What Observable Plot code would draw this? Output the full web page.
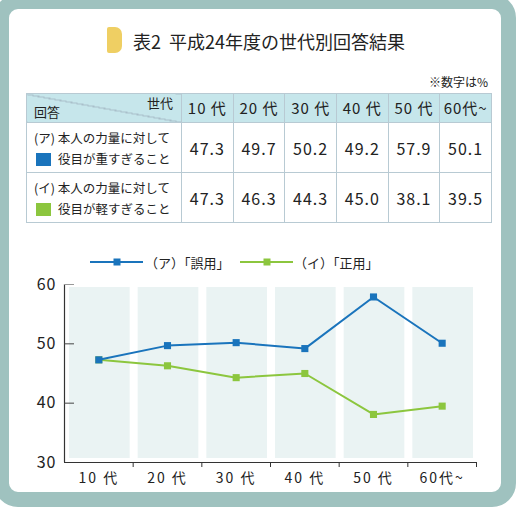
<!DOCTYPE html>
<html><head><meta charset="utf-8">
<script src="https://cdn.jsdelivr.net/npm/d3@7"></script>
<script src="https://cdn.jsdelivr.net/npm/@observablehq/plot@0.6"></script>
<style>
body{margin:0;background:#fff;font-family:"Noto Sans CJK JP","Noto Sans",sans-serif;color:#222;}
#root{position:relative;width:516px;height:516px;overflow:hidden;background:#fff;}
#frame{position:absolute;left:-6px;top:-6px;width:522px;height:513px;box-sizing:border-box;border:15px solid #9fc2bf;border-radius:24px;}
#tab{position:absolute;left:107px;top:27px;width:15px;height:26px;background:#efcf63;border-radius:2px 7px 7px 2px;}
#title{position:absolute;left:133px;top:29px;font-size:18px;line-height:24px;white-space:nowrap;color:#222;}
#note{position:absolute;right:28px;top:74px;font-size:12px;line-height:16px;}
table{position:absolute;left:26px;top:93px;border-collapse:collapse;table-layout:fixed;width:466px;}
td{border:1px solid #b8cad3;padding:0;text-align:center;vertical-align:middle;white-space:nowrap;overflow:hidden;}
tr.head td{background:#c6e6eb;height:28px;font-size:15px;letter-spacing:1px;line-height:20px;}
tr.row td{height:49px;font-size:16px;letter-spacing:1px;line-height:20px;}
td.corner{position:relative;letter-spacing:0 !important;background:#c6e6eb linear-gradient(to top right, transparent calc(50% - 0.6px), #a9bfca calc(50% - 0.6px), #a9bfca calc(50% + 0.6px), transparent calc(50% + 0.6px)) !important;}
td.corner .a{position:absolute;right:8px;top:1px;font-size:13px;line-height:16px;}
td.corner .b{position:absolute;left:7px;bottom:2px;font-size:13px;line-height:16px;}
tr.row td.lab{text-align:left;padding-left:7px;font-size:12.5px;line-height:21px;letter-spacing:0;}
td.lab .sq{display:inline-block;width:15px;height:13px;vertical-align:-2px;margin-right:7px;margin-left:2px;}
td.lab .l2{font-size:12.5px;}
#legend{position:absolute;left:0;top:252px;width:516px;height:20px;font-size:13px;}
#legend .it{position:absolute;top:0;display:flex;align-items:center;}
#chart{position:absolute;left:0;top:250px;}
#chart g[aria-label="x-axis tick label"] text{letter-spacing:2px;}
#chart g[aria-label="y-axis tick label"] text{letter-spacing:1px;}
</style></head>
<body><div id="root">
<div id="frame"></div>
<div id="tab"></div>
<div id="title">表2&nbsp;&nbsp;平成24年度の世代別回答結果</div>
<div id="note">※数字は%</div>
<table id="tbl"></table>
<div id="legend"></div>
<div id="chart"></div>
</div>
<script>
const headerGenerations = ["10 代","20 代","30 代","40 代","50 代","60代~"];
const axisGenerations = ["10 代","20 代","30 代","40 代","50 代","60代~"];
const misuse = [47.3, 49.7, 50.2, 49.2, 57.9, 50.1];   // (ア)
const correct = [47.3, 46.3, 44.3, 45.0, 38.1, 39.5];  // (イ)
const yTicks = [30, 40, 50, 60];
const rowLabel1 = ["(ア) 本人の力量に対して", "(イ) 本人の力量に対して"];
const rowLabel2 = ["役目が重すぎること", "役目が軽すぎること"];
const seriesNames = ["（ア）「誤用」", "（イ）「正用」"];
const colors = ["#1a74bc", "#8cc63e"];

// table
const tbl = document.getElementById("tbl");
let html = '<colgroup><col style="width:155px">' + headerGenerations.map(()=>'<col>').join('') + '</colgroup>';
html += '<tr class="head"><td class="corner"><span class="a">世代</span><span class="b">回答</span></td>' +
  headerGenerations.map(g => `<td>${g}</td>`).join('') + '</tr>';
[misuse, correct].forEach((vals, r) => {
  html += `<tr class="row"><td class="lab">${rowLabel1[r]}<br><span class="l2"><span class="sq" style="background:${colors[r]}"></span>${rowLabel2[r]}</span></td>` +
    vals.map(v => `<td>${v.toFixed(1)}</td>`).join('') + '</tr>';
});
tbl.innerHTML = html;

// legend
const legend = document.getElementById("legend");
const legendPos = [{line: 90, text: 145}, {line: 240, text: 294}];
seriesNames.forEach((name, k) => {
  const it = document.createElement("div");
  it.className = "it";
  it.style.left = legendPos[k].line + "px";
  it.innerHTML = `<svg width="54" height="20"><line x1="0" x2="53" y1="10" y2="10" stroke="${colors[k]}" stroke-width="2"/><rect x="23.5" y="6.5" width="7" height="7" fill="${colors[k]}"/></svg><span style="margin-left:${legendPos[k].text - legendPos[k].line - 54}px">${name}</span>`;
  legend.appendChild(it);
});

// chart
const bands = axisGenerations.map((g, i) => ({i}));
const ptsA = misuse.map((v, i) => ({x: i + 0.5, y: v}));
const ptsB = correct.map((v, i) => ({x: i + 0.5, y: v}));
const chart = Plot.plot({
  width: 516, height: 250,
  marginLeft: 64, marginRight: 40, marginTop: 34, marginBottom: 38,
  style: {background: "transparent", fontFamily: '"Noto Sans CJK JP", sans-serif', color: "#222"},
  x: {domain: [0, 6], label: null},
  y: {domain: [30, 60], label: null},
  marks: [
    Plot.rect(bands, {x1: d => d.i, x2: d => d.i + 1, y1: 30, y2: 60, fill: "#eaf3f3", insetLeft: 5, insetRight: 3, insetTop: 3, insetBottom: 4}),
    Plot.ruleX([0], {stroke: "#333", strokeWidth: 1.2}),
    Plot.ruleY([30], {stroke: "#333", strokeWidth: 1.2}),
    Plot.ruleY([40, 50], {x1: 0, x2: 0, insetRight: -10, stroke: "#444"}),
    Plot.ruleY([60], {x1: 0, x2: 0, insetRight: -10, stroke: "#999"}),
    Plot.axisX({ticks: [1, 2, 3, 4, 5, 6], tickSize: 5, tickFormat: () => "", stroke: "#333", label: null}),
    Plot.axisX({ticks: axisGenerations.map((g, i) => i + 0.5), tickSize: 0, tickPadding: 11, fontSize: 14, tickFormat: t => axisGenerations[Math.floor(t)], label: null}),
    Plot.axisY({ticks: yTicks, tickSize: 0, tickPadding: 8, fontSize: 16, label: null}),
    Plot.line(ptsB, {x: "x", y: "y", stroke: colors[1], strokeWidth: 2}),
    Plot.dot(ptsB, {x: "x", y: "y", symbol: "square", r: 4, fill: colors[1]}),
    Plot.line(ptsA, {x: "x", y: "y", stroke: colors[0], strokeWidth: 2}),
    Plot.dot(ptsA, {x: "x", y: "y", symbol: "square", r: 4, fill: colors[0]})
  ]
});
document.getElementById("chart").appendChild(chart);
</script>
</body></html>
